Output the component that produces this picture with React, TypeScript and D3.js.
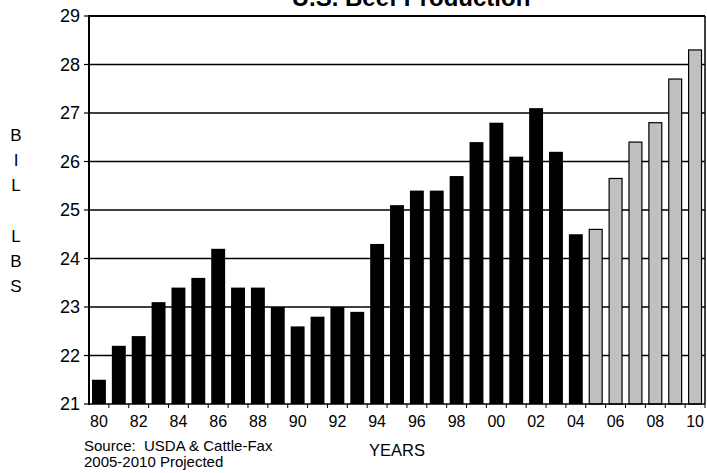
import React from "react";
import * as d3 from "d3";

const years = [
  "80","81","82","83","84","85","86","87","88","89",
  "90","91","92","93","94","95","96","97","98","99",
  "00","01","02","03","04","05","06","07","08","09","10",
];
const production = [
  21.5, 22.2, 22.4, 23.1, 23.4, 23.6, 24.2, 23.4, 23.4, 23.0,
  22.6, 22.8, 23.0, 22.9, 24.3, 25.1, 25.4, 25.4, 25.7, 26.4,
  26.8, 26.1, 27.1, 26.2, 24.5, 24.6, 25.65, 26.4, 26.8, 27.7, 28.3,
];
const projectedFrom = "05";
const yTicks = [21, 22, 23, 24, 25, 26, 27, 28, 29];
const xTickLabels = ["80","82","84","86","88","90","92","94","96","98","00","02","04","06","08","10"];
const yAxisLetters = ["B", "I", "L", "", "L", "B", "S"];

const W = 707, H = 473;
const L = 89, R = 705, T = 16, B = 404;
const FONT = "'Liberation Sans', Arial, sans-serif";

export default function App() {
  const x = d3.scaleBand<string>().domain(years).range([L, R]).paddingInner(0.3).paddingOuter(0.15);
  const y = d3.scaleLinear().domain([21, 29]).range([B, T]);
  const projIdx = years.indexOf(projectedFrom);
  const step = x.step();

  return (
    <svg width={W} height={H} style={{ position: "absolute", left: 0, top: 0, background: "#fff" }}>
      {/* gridlines */}
      {yTicks.slice(1, -1).map((t) => (
        <line key={"g" + t} x1={L} x2={R} y1={y(t)} y2={y(t)} stroke="#000" strokeWidth={1.5} />
      ))}
      {/* bars */}
      {production.map((v, i) => {
        const proj = i >= projIdx;
        const bx = x(years[i])!;
        return (
          <rect
            key={"b" + i}
            x={proj ? bx + 0.5 : bx}
            y={y(v)}
            width={proj ? x.bandwidth() - 1 : x.bandwidth()}
            height={B - y(v)}
            fill={proj ? "#c0c0c0" : "#000"}
            stroke={proj ? "#000" : "none"}
            strokeWidth={1.2}
          />
        );
      })}
      {/* frame */}
      <line x1={L} x2={R} y1={T} y2={T} stroke="#000" strokeWidth={2} />
      <line x1={R} x2={R} y1={T} y2={B} stroke="#000" strokeWidth={1.5} />
      <line x1={L} x2={L} y1={T - 1} y2={B + 1} stroke="#000" strokeWidth={2} />
      <line x1={L} x2={R} y1={B} y2={B} stroke="#000" strokeWidth={1.5} />
      {/* y ticks & labels */}
      {yTicks.map((t) => (
        <g key={"y" + t}>
          <line x1={L - 5} x2={L} y1={y(t)} y2={y(t)} stroke="#000" strokeWidth={1.2} />
          <text x={80} y={y(t)} dy="0.36em" textAnchor="end" fontFamily={FONT} fontSize={18} fill="#000">
            {t}
          </text>
        </g>
      ))}
      {/* x ticks at band boundaries */}
      {years.map((yr, i) => (
        <line key={"xt" + i} x1={L + step * (i + 1)} x2={L + step * (i + 1)} y1={B} y2={B + 4} stroke="#000" strokeWidth={1} />
      ))}
      {xTickLabels.map((lbl) => (
        <text
          key={"xl" + lbl}
          x={x(lbl)! + x.bandwidth() / 2}
          y={426.5}
          textAnchor="middle"
          fontFamily={FONT}
          fontSize={16}
          fill="#000"
        >
          {lbl}
        </text>
      ))}
      {/* y-axis title letters */}
      {yAxisLetters.map((c, i) => (
        <text key={"ya" + i} x={16} y={141 + i * 25.2} textAnchor="middle" fontFamily={FONT} fontSize={17} fill="#000">
          {c}
        </text>
      ))}
      {/* title */}
      <text x={411} y={6} textAnchor="middle" fontFamily={FONT} fontWeight="bold" fontSize={24} fill="#000">
        U.S. Beef Production
      </text>
      {/* x axis title */}
      <text x={397} y={456} textAnchor="middle" fontFamily={FONT} fontSize={16.5} fill="#000">
        YEARS
      </text>
      {/* source notes */}
      <text x={84} y={451} fontFamily={FONT} fontSize={15} fill="#000" style={{ whiteSpace: "pre" }}>
        {"Source:  USDA & Cattle-Fax"}
      </text>
      <text x={84} y={467} fontFamily={FONT} fontSize={15} fill="#000">
        2005-2010 Projected
      </text>
    </svg>
  );
}
